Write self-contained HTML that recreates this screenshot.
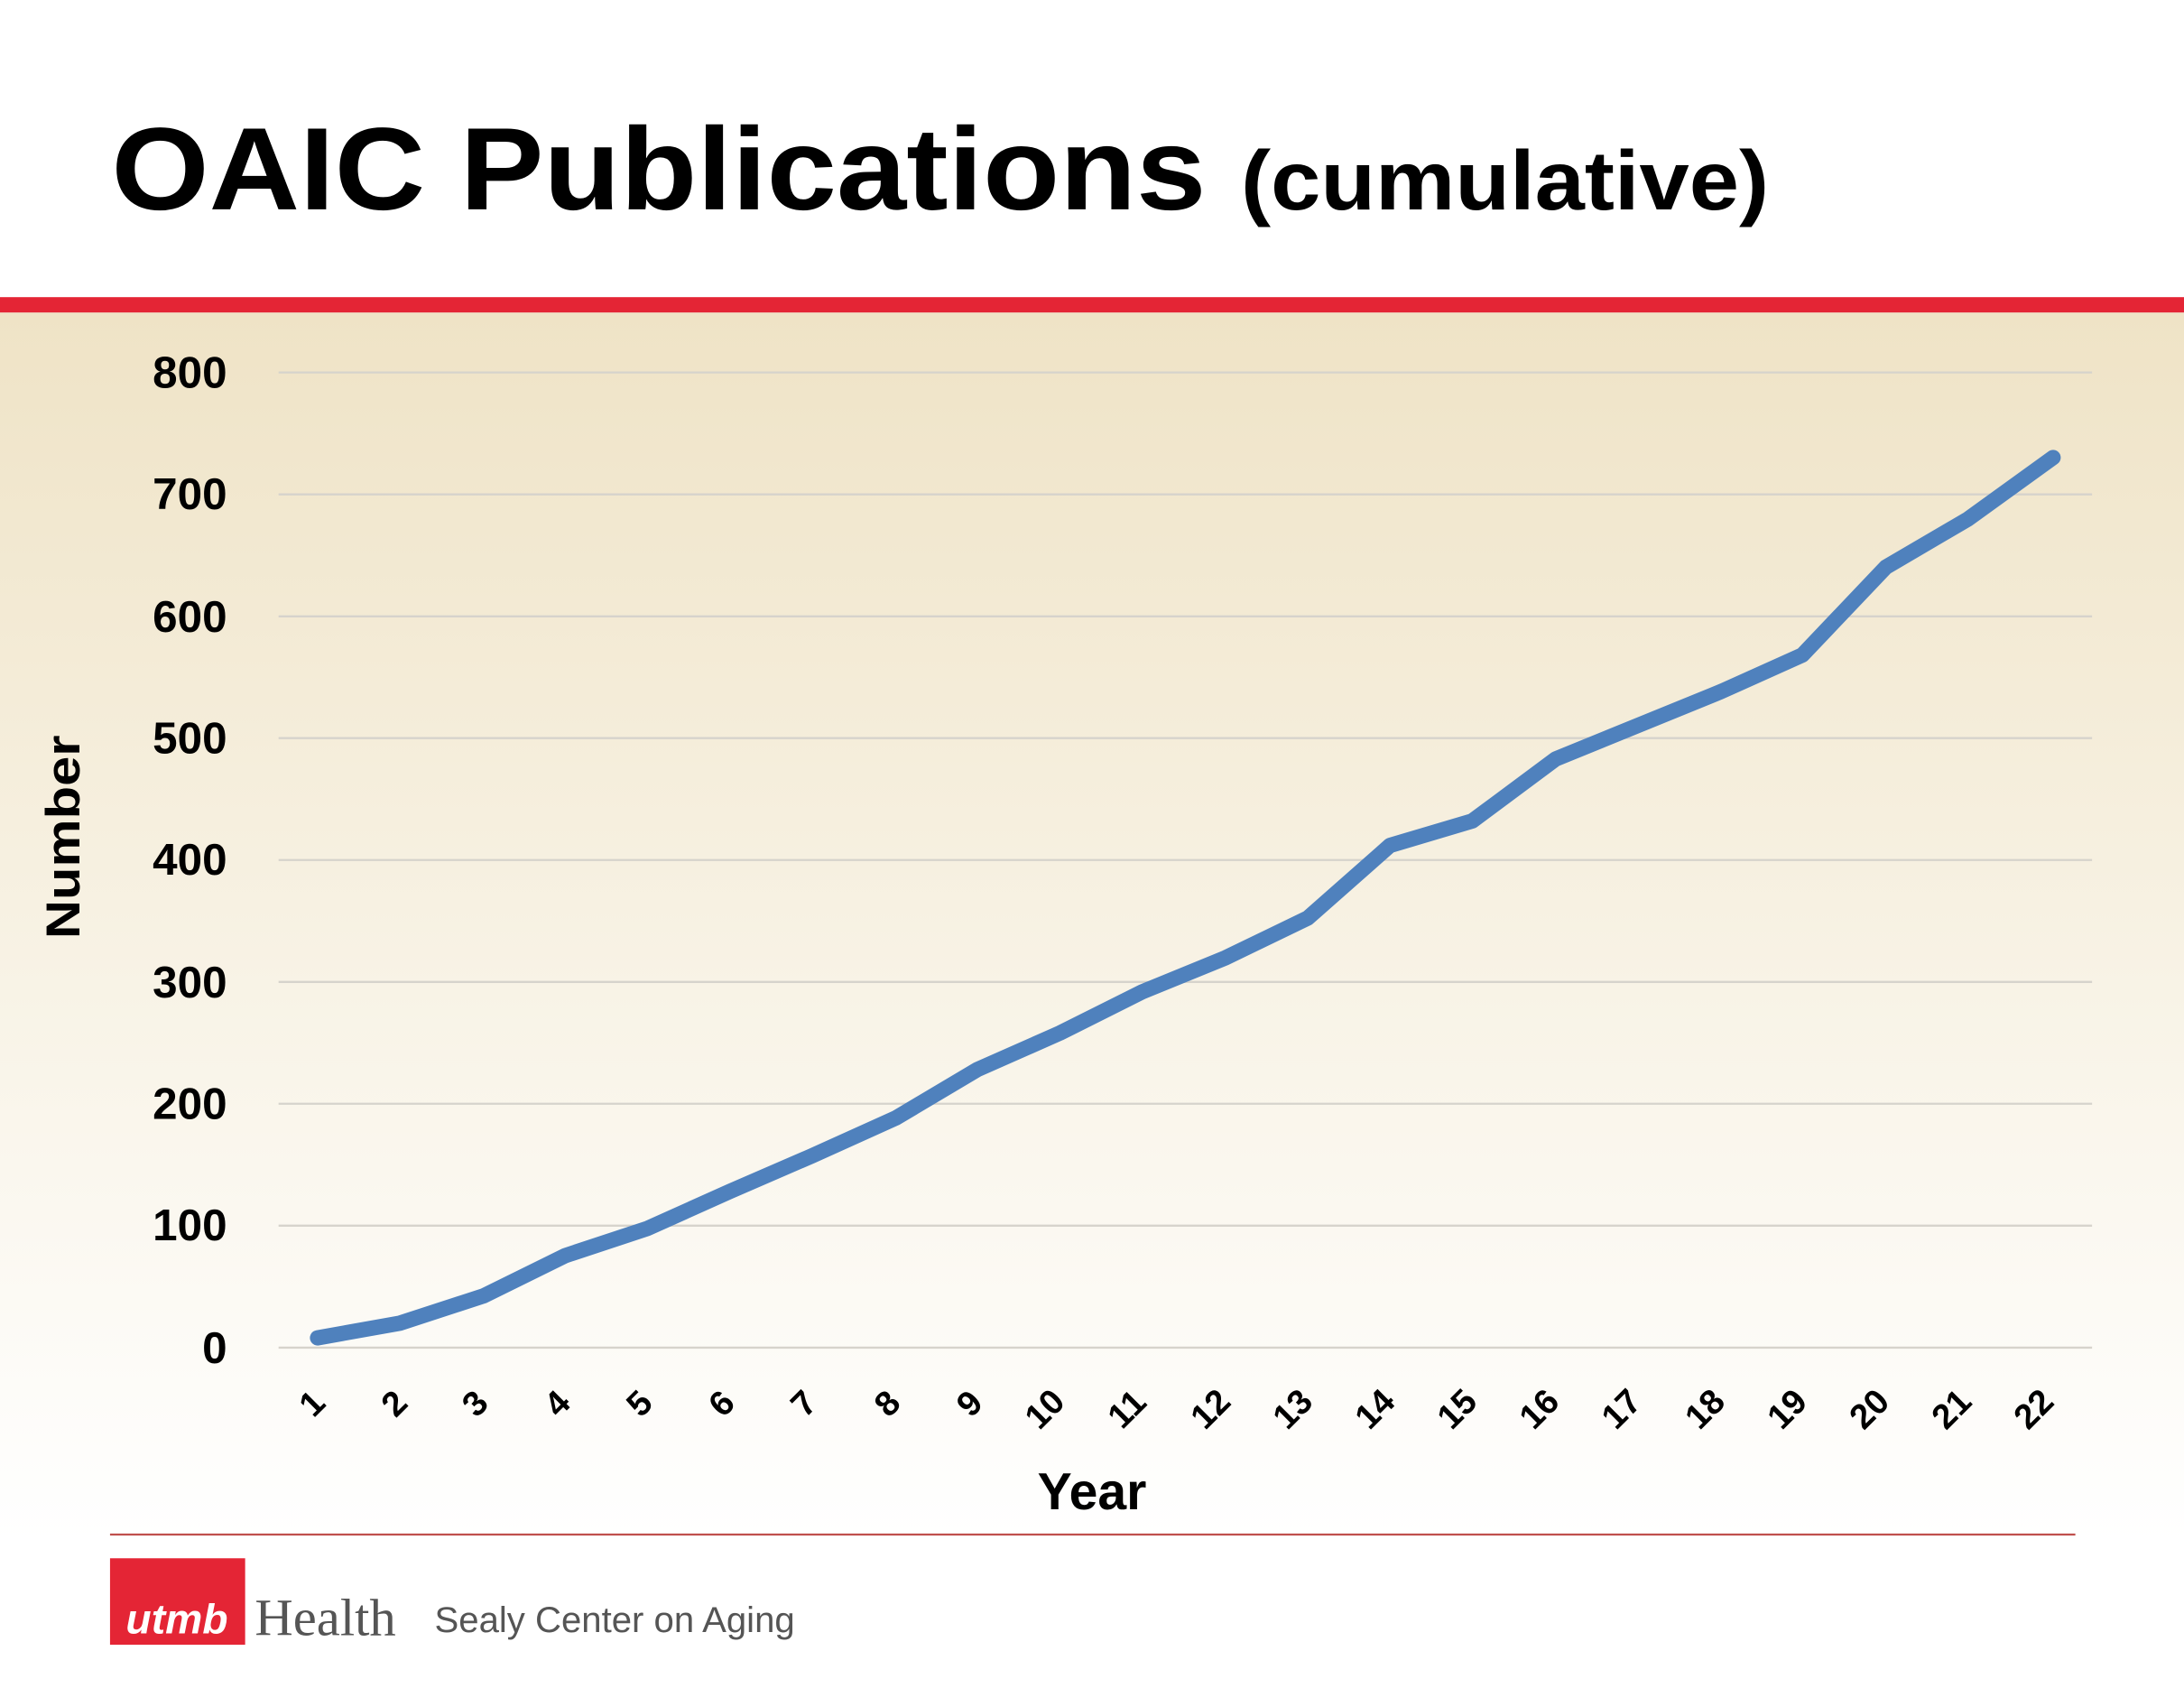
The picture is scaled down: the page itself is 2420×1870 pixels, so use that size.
<!DOCTYPE html>
<html><head><meta charset="utf-8"><style>
html,body{margin:0;padding:0;background:#fff;}
svg{display:block;}
</style></head><body>
<svg width="2420" height="1870" viewBox="0 0 1568 1210" preserveAspectRatio="none" xmlns="http://www.w3.org/2000/svg">
<defs>
<linearGradient id="bg" x1="0" y1="0" x2="0" y2="1">
<stop offset="0" stop-color="#efe3c6"/>
<stop offset="0.55" stop-color="#f8f3e6"/>
<stop offset="1" stop-color="#ffffff"/>
</linearGradient>
</defs>
<rect x="0" y="0" width="1568" height="1210" fill="#fff"/>
<rect x="0" y="224" width="1568" height="880" fill="url(#bg)"/>
<rect x="0" y="213" width="1568" height="11" fill="#e42535"/>
<text x="80" y="150" font-family="Liberation Sans, sans-serif" font-weight="bold" font-size="84" fill="#000" textLength="1190" lengthAdjust="spacingAndGlyphs">OAIC Publications <tspan font-size="60">(cumulative)</tspan></text>
<g stroke="#d6d3cc" stroke-width="1.5">
<line x1="200" x2="1502" y1="267" y2="267"/>
<line x1="200" x2="1502" y1="354.4" y2="354.4"/>
<line x1="200" x2="1502" y1="441.8" y2="441.8"/>
<line x1="200" x2="1502" y1="529.1" y2="529.1"/>
<line x1="200" x2="1502" y1="616.5" y2="616.5"/>
<line x1="200" x2="1502" y1="703.9" y2="703.9"/>
<line x1="200" x2="1502" y1="791.2" y2="791.2"/>
<line x1="200" x2="1502" y1="878.6" y2="878.6"/>
<line x1="200" x2="1502" y1="966" y2="966"/>
</g>
<g font-family="Liberation Sans, sans-serif" font-weight="bold" font-size="32" fill="#000" text-anchor="end">
<text x="163" y="278">800</text>
<text x="163" y="365">700</text>
<text x="163" y="453">600</text>
<text x="163" y="540">500</text>
<text x="163" y="627">400</text>
<text x="163" y="715">300</text>
<text x="163" y="802">200</text>
<text x="163" y="889">100</text>
<text x="163" y="977">0</text>
</g>
<text transform="translate(57,600) rotate(-90)" text-anchor="middle" font-family="Liberation Sans, sans-serif" font-weight="bold" font-size="34" textLength="146" lengthAdjust="spacingAndGlyphs">Number</text>
<text x="784" y="1082" text-anchor="middle" font-family="Liberation Sans, sans-serif" font-weight="bold" font-size="37">Year</text>
<g font-family="Liberation Sans, sans-serif" font-weight="bold" font-size="25" fill="#000" text-anchor="middle">
<text transform="translate(230,1012) rotate(-45)">1</text>
<text transform="translate(289,1012) rotate(-45)">2</text>
<text transform="translate(347,1012) rotate(-45)">3</text>
<text transform="translate(406,1012) rotate(-45)">4</text>
<text transform="translate(465,1012) rotate(-45)">5</text>
<text transform="translate(524,1012) rotate(-45)">6</text>
<text transform="translate(583,1012) rotate(-45)">7</text>
<text transform="translate(643,1012) rotate(-45)">8</text>
<text transform="translate(702,1012) rotate(-45)">9</text>
<text transform="translate(756,1016) rotate(-45)">10</text>
<text transform="translate(815,1016) rotate(-45)">11</text>
<text transform="translate(875,1016) rotate(-45)">12</text>
<text transform="translate(934,1016) rotate(-45)">13</text>
<text transform="translate(993,1016) rotate(-45)">14</text>
<text transform="translate(1052,1016) rotate(-45)">15</text>
<text transform="translate(1111,1016) rotate(-45)">16</text>
<text transform="translate(1170,1016) rotate(-45)">17</text>
<text transform="translate(1230,1016) rotate(-45)">18</text>
<text transform="translate(1289,1016) rotate(-45)">19</text>
<text transform="translate(1348,1016) rotate(-45)">20</text>
<text transform="translate(1407,1016) rotate(-45)">21</text>
<text transform="translate(1466,1016) rotate(-45)">22</text>
</g>
<polyline fill="none" stroke="#4f81bd" stroke-width="11" stroke-linejoin="round" stroke-linecap="round"
points="228,959 287,948.5 347,929 406,900 465,880.5 524,854 583,828.5 643,801.5 702,766.5 761,740.5 820,711 880,686.5 939,658 998,606 1057,588.5 1117,544 1176,520 1235,496 1294,469.5 1354,406.5 1413,372 1474,328"/>
<line x1="79" x2="1490" y1="1100" y2="1100" stroke="#c0504d" stroke-width="1.5"/>
<rect x="79" y="1117" width="97" height="62" fill="#e42535"/>
<text x="127" y="1171" text-anchor="middle" font-family="Liberation Sans, sans-serif" font-weight="bold" font-style="italic" font-size="30" fill="#fff">utmb</text>
<text x="183" y="1172" font-family="Liberation Serif, serif" font-size="38" fill="#555">Health</text>
<text x="312" y="1170" font-family="Liberation Sans, sans-serif" font-size="26" fill="#555">Sealy Center on Aging</text>
</svg>
</body></html>
